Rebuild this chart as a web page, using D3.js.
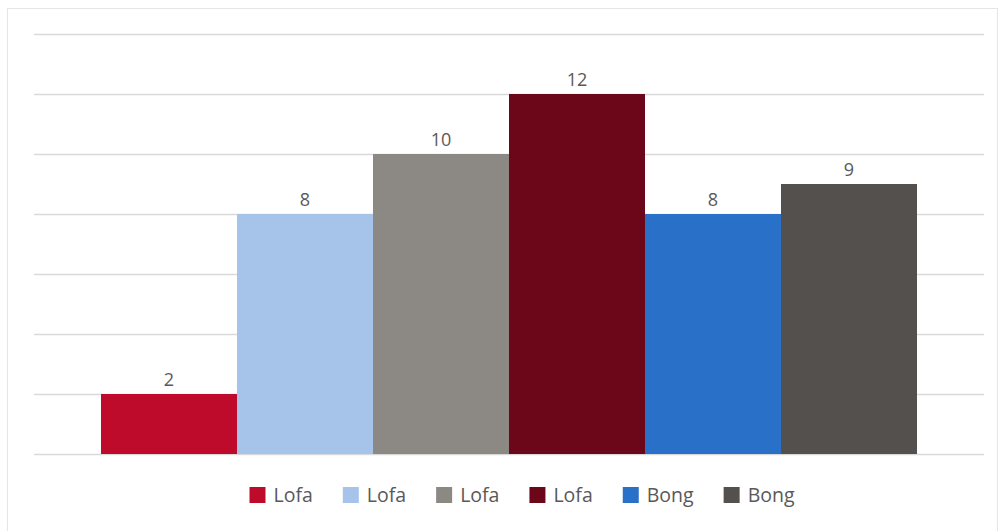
<!DOCTYPE html>
<html lang="en">
  <head>
    <meta charset="utf-8">
    <script src="https://cdn.jsdelivr.net/npm/d3@7/dist/d3.min.js"></script>
    <style>
      body { margin: 0; background: #fff; }
      text { font-family: "Open Sans", "Noto Sans", sans-serif; }
    </style>
  </head>
  <body>
    <svg class="chart"></svg>
  </body>
  <script>
    var seriesNames = ['Lofa', 'Lofa', 'Lofa', 'Lofa', 'Bong', 'Bong'];
    var seriesValues = [2, 8, 10, 12, 8, 9];
    var seriesColors = ['#BE0A2B', '#A6C4EA', '#8C8985', '#6B0719', '#2970C9', '#53504D'];
    var yTicks = [0, 2, 4, 6, 8, 10, 12, 14];

    var screenWidth = 999, screenHeight = 531;

    var svg = d3.select('.chart')
                .attr('width', screenWidth)
                .attr('height', screenHeight);

    // outer chart frame
    svg.append('rect')
       .attr('x', 7.5).attr('y', 8.5)
       .attr('width', 990).attr('height', 530)
       .attr('fill', '#fff')
       .attr('stroke', '#e6e6e6');

    var margins = { top: 34, bottom: 77, left: 34, right: 15 };
    var plotLeft = margins.left, plotRight = screenWidth - margins.right;

    var yScale = d3.scaleLinear()
                   .domain([0, 14])
                   .range([screenHeight - margins.bottom, margins.top]);

    var ids = d3.range(seriesValues.length);
    var xScale = d3.scaleBand()
                   .domain(ids)
                   .range([101, 917])
                   .paddingInner(0);

    // gridlines
    svg.append('g').classed('grid', true)
       .selectAll('line')
       .data(yTicks)
       .enter()
       .append('line')
       .attr('x1', plotLeft)
       .attr('x2', plotRight)
       .attr('y1', function(d){ return Math.round(yScale(d)) + 0.5; })
       .attr('y2', function(d){ return Math.round(yScale(d)) + 0.5; })
       .attr('stroke', '#d9d9d9')
       .attr('stroke-width', 1.5);

    var bars = svg.append('g').classed('bars', true)
                  .selectAll('g')
                  .data(ids)
                  .enter()
                  .append('g');

    bars.append('rect')
        .attr('x', function(i){ return xScale(i); })
        .attr('y', function(i){ return yScale(seriesValues[i]); })
        .attr('width', xScale.bandwidth())
        .attr('height', function(i){ return yScale(0) - yScale(seriesValues[i]); })
        .attr('fill', function(i){ return seriesColors[i]; });

    bars.append('text')
        .attr('x', function(i){ return xScale(i) + xScale.bandwidth() / 2; })
        .attr('y', function(i){ return yScale(seriesValues[i]) - 8; })
        .attr('text-anchor', 'middle')
        .attr('font-size', 18)
        .attr('fill', '#595959')
        .text(function(i){ return seriesValues[i]; });

    // legend
    var legend = svg.append('g').classed('legend', true);
    var lx = 0;
    ids.forEach(function(i){
      var g = legend.append('g');
      g.append('rect')
       .attr('x', 0).attr('y', -8)
       .attr('width', 16).attr('height', 16)
       .attr('fill', seriesColors[i]);
      var t = g.append('text')
               .attr('x', 24).attr('y', 7)
               .attr('font-size', 19.5)
               .attr('fill', '#595959')
               .text(seriesNames[i]);
      var w = 24 + t.node().getComputedTextLength();
      g.attr('transform', 'translate(' + lx + ',0)');
      lx += w + 30;
    });
    var totalW = lx - 30;
    legend.attr('transform', 'translate(' + (522 - totalW / 2) + ',495)');
  </script>
</html>
